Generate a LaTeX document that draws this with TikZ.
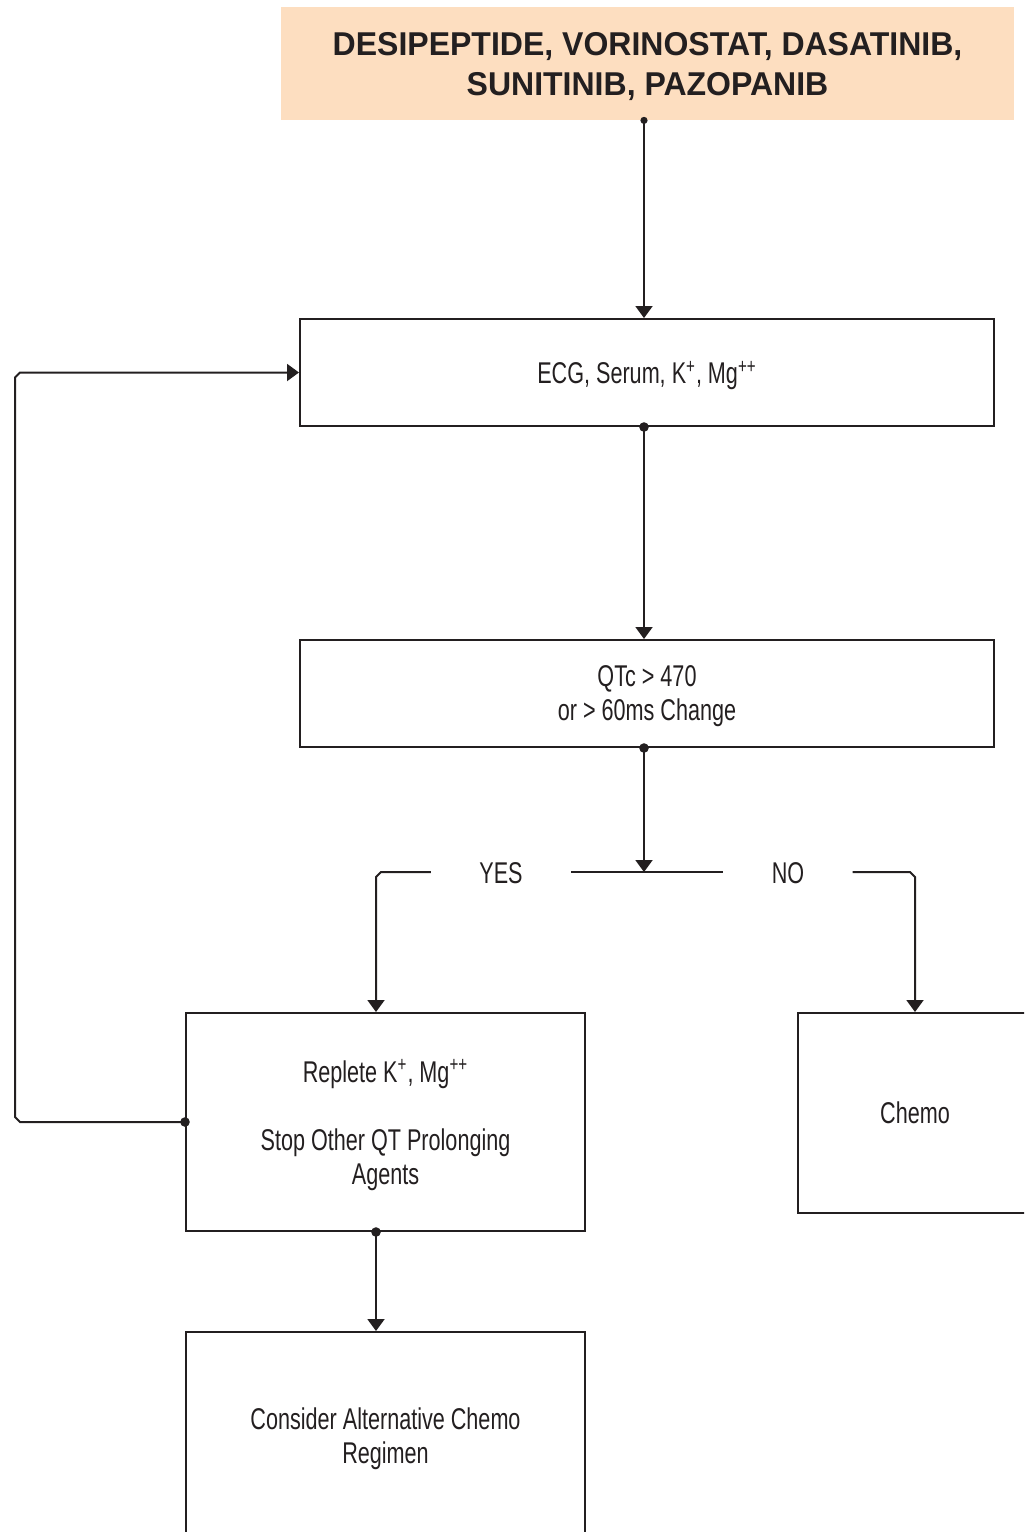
\documentclass[tikz,border=0pt]{standalone}
\usepackage{fontspec}
\setmainfont{Liberation Sans}
\newfontfamily\condfont[FakeStretch=0.72]{Liberation Sans}
\newfontfamily\headfont[FakeStretch=0.97]{Liberation Sans}
\usetikzlibrary{arrows.meta,calc}
\definecolor{ink}{HTML}{231F20}
\definecolor{peach}{HTML}{FDDEC0}

\begin{document}
\begin{tikzpicture}[x=0.5pt,y=-0.5pt,
  every node/.style={text=ink, inner sep=0pt},
  box/.style={draw=ink, line width=1pt, fill=white, align=center, text depth=0pt,
    font=\condfont\fontsize{15pt}{17pt}\selectfont},
  link/.style={draw=ink, line width=1pt, -{Triangle[width=8.5pt,length=6pt]}},
  plain/.style={draw=ink, line width=1pt},
  lbl/.style={font=\condfont\fontsize{15pt}{17pt}\selectfont, inner xsep=24pt}]

\clip (0,0) rectangle (1024,1532);

% boxes
\node[fill=peach, minimum width=366.5pt, minimum height=56.5pt, align=center, text depth=0pt,
      font=\headfont\bfseries\fontsize{16.5pt}{20pt}\selectfont] (top) at (647.5,63.5)
      {DESIPEPTIDE, VORINOSTAT, DASATINIB,\\SUNITINIB, PAZOPANIB};
\node[box, minimum width=347pt, minimum height=53.5pt] (ecg) at (647,372.5)
      {ECG, Serum, K\textsuperscript{+}, Mg\textsuperscript{++}};
\node[box, minimum width=347pt, minimum height=53.5pt] (qtc) at (647,693.5)
      {QTc > 470\\or > 60ms Change};
\node[box, minimum width=199.5pt, minimum height=109pt] (rep) at (385.5,1122)
      {Replete K\textsuperscript{+}, Mg\textsuperscript{++}\\[17pt]Stop Other QT Prolonging\\Agents};
\node[box, minimum width=117pt, minimum height=100pt] (chemo) at (915,1113) {Chemo};
\node[box, minimum width=199.5pt, minimum height=104pt] (alt) at (385.5,1436)
      {Consider Alternative Chemo\\Regimen};

% branch labels
\node[lbl] (yes) at (501,873) {YES};
\node[lbl] (no) at (788,873) {NO};

% helper coordinates
\coordinate (vx) at (644,0);
\coordinate (lx) at (376,0);
\coordinate (jn) at (644,872);
\coordinate (yc1) at (381,872);
\coordinate (yc2) at (376,877);
\coordinate (nc1) at (910,872);
\coordinate (nc2) at (915,877);
\coordinate (lp1) at (20,1122);
\coordinate (lp2) at (15,1117);
\coordinate (lp3) at (15,377.5);
\coordinate (lp4) at (20,372.5);

% main spine
\draw[link] (vx |- top.south) -- (vx |- ecg.north);
\fill[ink] (vx |- top.south) circle[radius=1.8pt];
\draw[link] (vx |- ecg.south) -- (vx |- qtc.north);
\fill[ink] (vx |- ecg.south) circle[radius=2.4pt];
\draw[link] (vx |- qtc.south) -- (jn);
\fill[ink] (vx |- qtc.south) circle[radius=2.4pt];

% decision split
\draw[plain] (yes.east |- jn) -- (no.west |- jn);
\draw[link] (yes.west |- jn) -- (yc1) -- (yc2) -- (lx |- rep.north);
\draw[link] (no.east |- jn) -- (nc1) -- (nc2) -- (chemo.north);

% loop back to the tests
\draw[link] (rep.west) -- (lp1) -- (lp2) -- (lp3) -- (lp4) -- (ecg.west);
\fill[ink] (rep.west) circle[radius=2.4pt];

% last step
\draw[link] (lx |- rep.south) -- (lx |- alt.north);
\fill[ink] (lx |- rep.south) circle[radius=2.4pt];
\end{tikzpicture}
\end{document}
